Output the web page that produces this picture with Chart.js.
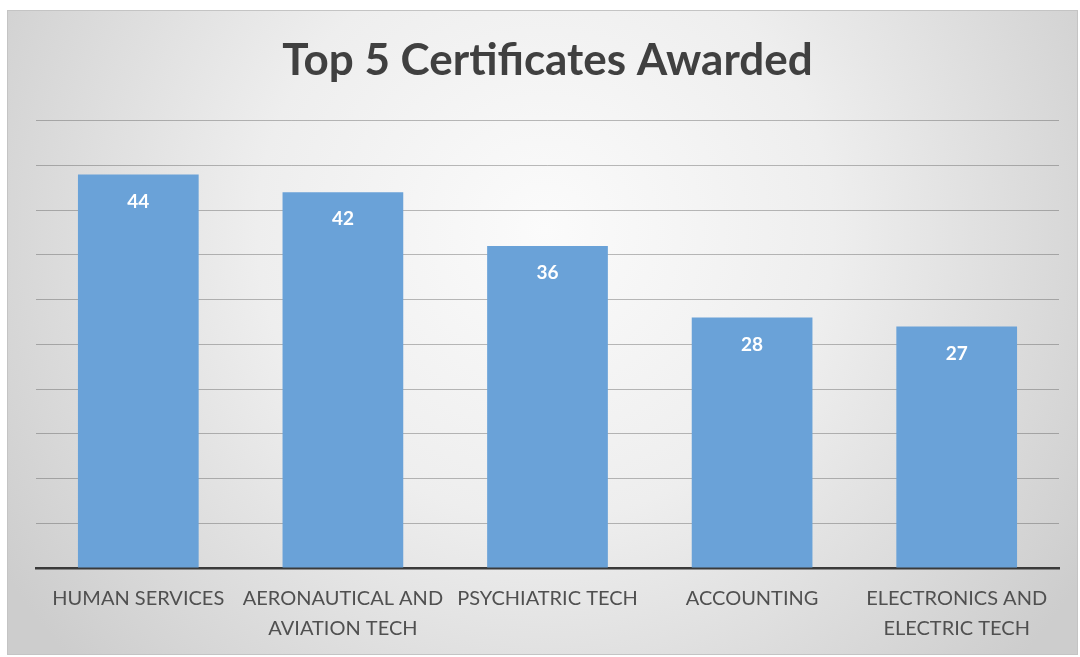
<!DOCTYPE html>
<html>
<head>
<meta charset="utf-8">
<script src="https://cdn.jsdelivr.net/npm/chart.js@4"></script>
<style>
  html, body { margin: 0; padding: 0; background: #ffffff; }
  #wrap { width: 1080px; height: 657px; position: relative; }
</style>
</head>
<body>
<div id="wrap"><canvas id="chart" width="1080" height="657"></canvas></div>
<script>
// Certificates awarded, top five programmes
const categories = [
  'HUMAN SERVICES',
  ['AERONAUTICAL AND', 'AVIATION TECH'],
  'PSYCHIATRIC TECH',
  'ACCOUNTING',
  ['ELECTRONICS AND', 'ELECTRIC TECH']
];
const awarded = [44, 42, 36, 28, 27];
const chartTitle = 'Top 5 Certificates Awarded';

const FONT = 'Lato, "Open Sans", "DejaVu Sans", sans-serif';

// Framed panel with a soft radial grey gradient behind everything
const panelBackground = {
  id: 'panelBackground',
  beforeDraw(chart) {
    const { ctx, width, height } = chart;
    const x0 = 7, y0 = 10, x1 = width - 2, y1 = height - 2;
    ctx.save();
    const g = ctx.createRadialGradient(545, 230, 0, 545, 230, 640);
    g.addColorStop(0, '#fbfbfb');
    g.addColorStop(0.45, '#eeeeee');
    g.addColorStop(1, '#cdcdcd');
    ctx.fillStyle = g;
    ctx.fillRect(x0, y0, x1 - x0, y1 - y0);
    ctx.strokeStyle = '#c4c4c4';
    ctx.lineWidth = 1;
    ctx.strokeRect(x0 + 0.5, y0 + 0.5, x1 - x0 - 1, y1 - y0 - 1);
    ctx.restore();
  }
};

// Value written inside the top of each bar
const barValues = {
  id: 'barValues',
  afterDatasetsDraw(chart) {
    const { ctx } = chart;
    const meta = chart.getDatasetMeta(0);
    ctx.save();
    ctx.fillStyle = '#ffffff';
    ctx.font = 'bold 19px ' + FONT;
    ctx.textAlign = 'center';
    ctx.textBaseline = 'middle';
    meta.data.forEach((bar, i) => {
      ctx.fillText(String(chart.data.datasets[0].data[i]), bar.x, bar.y + 27);
    });
    ctx.restore();
  }
};

new Chart(document.getElementById('chart'), {
  type: 'bar',
  data: {
    labels: categories,
    datasets: [{
      data: awarded,
      backgroundColor: '#6aa2d8',
      borderWidth: 0,
      barPercentage: 0.59,
      categoryPercentage: 1.0
    }]
  },
  options: {
    responsive: false,
    animation: false,
    layout: { padding: { left: 36, right: 21, top: 0, bottom: -3 } },
    plugins: {
      legend: { display: false },
      tooltip: { enabled: false },
      title: {
        display: true,
        text: chartTitle,
        color: '#404040',
        font: { family: FONT, size: 44, weight: 'bold' },
        padding: { top: 34, bottom: 34 }
      }
    },
    scales: {
      x: {
        grid: { display: false, drawTicks: false },
        border: { display: true, color: '#3a3a3a', width: 2.5 },
        ticks: {
          color: '#505050',
          font: { family: FONT, size: 20, lineHeight: 1.5 },
          padding: 16,
          maxRotation: 0,
          autoSkip: false
        }
      },
      y: {
        min: 0,
        max: 50,
        ticks: { display: false, stepSize: 5 },
        grid: { color: 'rgba(80,80,80,0.38)', lineWidth: 1, drawTicks: false },
        border: { display: false }
      }
    }
  },
  plugins: [panelBackground, barValues]
});
</script>
</body>
</html>
